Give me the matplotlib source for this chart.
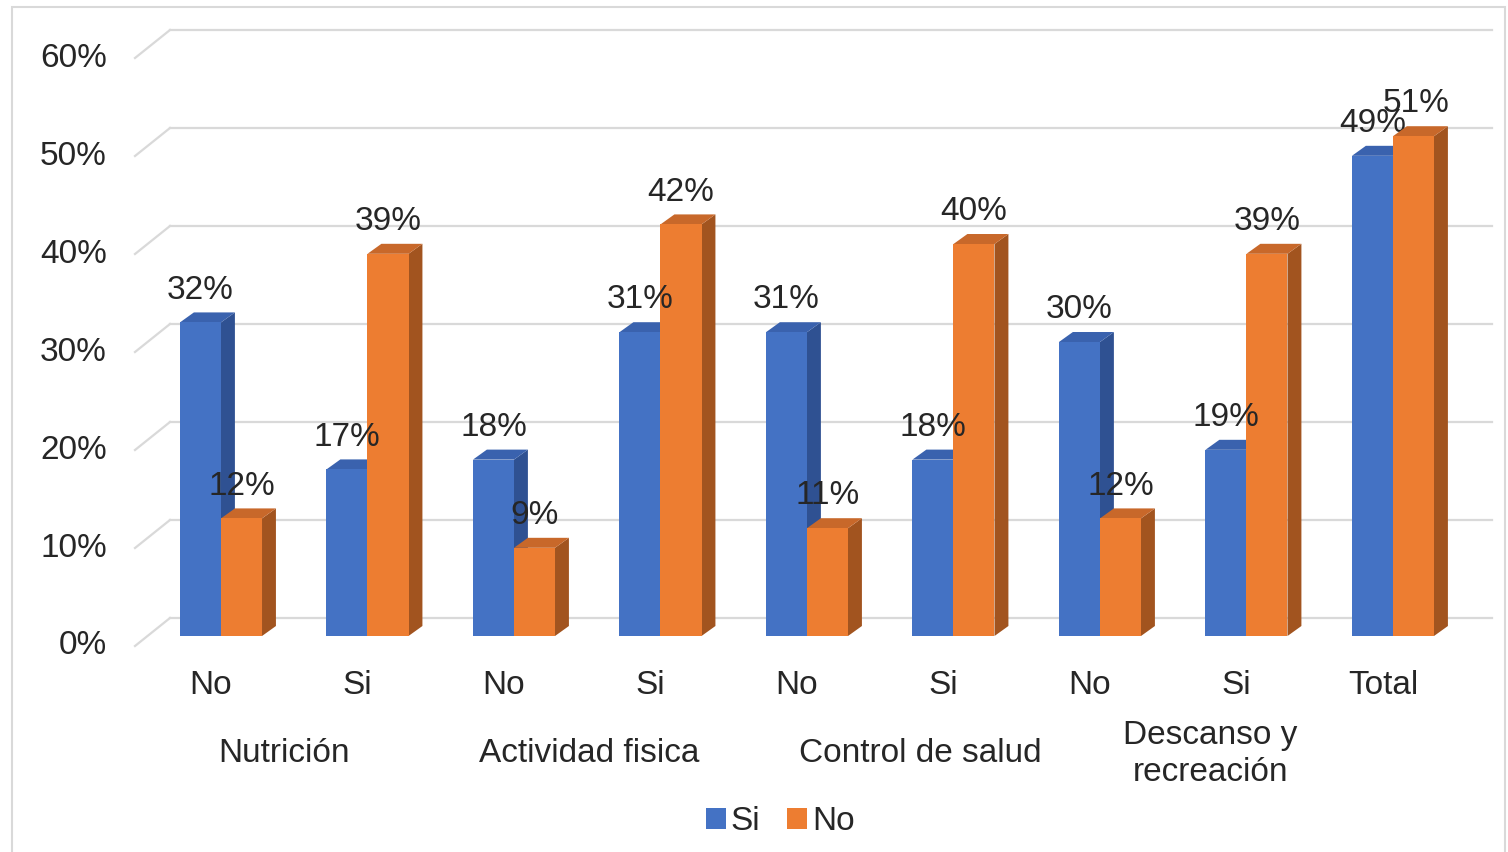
import matplotlib
matplotlib.use('Agg')
import matplotlib.pyplot as plt
from matplotlib.patches import Polygon, Rectangle, Patch

plt.rcParams['font.family'] = ['Liberation Sans', 'DejaVu Sans']

# data
categories = ['No', 'Si', 'No', 'Si', 'No', 'Si', 'No', 'Si', 'Total']
groups = ['Nutrición', 'Actividad fisica', 'Control de salud', 'Descanso y\nrecreación']
si_vals = [32, 17, 18, 31, 31, 18, 30, 19, 49]
no_vals = [12, 39, 9, 42, 11, 40, 12, 39, 51]
yticks = [0, 10, 20, 30, 40, 50, 60]

blue = '#4472C4'
blue_side = '#2F5192'
blue_top = '#3A62AE'
orange = '#ED7D31'
orange_side = '#A2541F'
orange_top = '#C8682A'
grid_c = '#D9D9D9'
txt_c = '#262626'

fig = plt.figure(figsize=(15.08, 8.52), dpi=100)
ax = fig.add_axes([135 / 1508, 1 - 646 / 852, (1492 - 135) / 1508, (646 - 29) / 852])
ax.set_xlim(-0.519, 8.744)
ax.set_ylim(-1.02, 61.94)
ax.axis('off')

# depth offsets (floor and bar)
fdx, fdy_back, fdy_front = 0.239, 1.84, 1.02
bdx, bdy = 0.095, 1.02
bw = 0.28

# walls / gridlines
for v in yticks:
    ax.plot([-0.280, 8.744], [v + fdy_back, v + fdy_back], color=grid_c, lw=1.6, zorder=1, clip_on=False)
    ax.plot([-0.519, -0.280], [v - fdy_front, v + fdy_back], color=grid_c, lw=1.6, zorder=1, clip_on=False)
    ax.text(-0.71, v - fdy_front, f'{v}%', ha='right', va='center', fontsize=24, color=txt_c)


def bar3d(x0, v, front, side, top, z, dx_lab=0.0):
    ax.add_patch(Polygon([(x0 + bw, 0), (x0 + bw + bdx, bdy), (x0 + bw + bdx, v + bdy), (x0 + bw, v)],
                         closed=True, facecolor=side, edgecolor='none', zorder=z))
    ax.add_patch(Polygon([(x0, v), (x0 + bdx, v + bdy), (x0 + bw + bdx, v + bdy), (x0 + bw, v)],
                         closed=True, facecolor=top, edgecolor='none', zorder=z))
    ax.bar(x0, v, width=bw, align='edge', color=front, zorder=z + 0.1)
    ax.text(x0 + bw / 2 + dx_lab, v + 3.3, f'{v}%', ha='center', va='center', fontsize=24,
            color=txt_c, zorder=10)


for i, (s, n) in enumerate(zip(si_vals, no_vals)):
    xb = i - 0.212
    bar3d(xb, s, blue, blue_side, blue_top, 2 + i)
    bar3d(xb + bw, n, orange, orange_side, orange_top, 2.5 + i, 0.02 if i == 8 else 0.0)
    ax.text(i, -5.0, categories[i], ha='center', va='center', fontsize=24, color=txt_c)

group_x = [0.5, 2.58, 4.845, 6.82]
for gx, g in zip(group_x, groups):
    ax.text(gx, -12.0, g, ha='center', va='center', fontsize=24, color=txt_c,
            linespacing=1.25)

handles = [Patch(facecolor=blue, label='Si'), Patch(facecolor=orange, label='No')]
fig.legend(handles=handles, loc='center', bbox_to_anchor=(780 / 1508, 1 - 822 / 852), ncol=2,
           frameon=False, fontsize=24, handlelength=0.6, handleheight=0.6, handletextpad=0.15,
           columnspacing=0.8, labelcolor=txt_c)

# outer chart border
fig.patches.append(Rectangle((12 / 1508, -0.01), (1508 - 12 - 3) / 1508, 1 - 7 / 852 + 0.01,
                             transform=fig.transFigure, fill=False, edgecolor='#D9D9D9', lw=1.5))

fig.savefig('out.png', dpi=100)
